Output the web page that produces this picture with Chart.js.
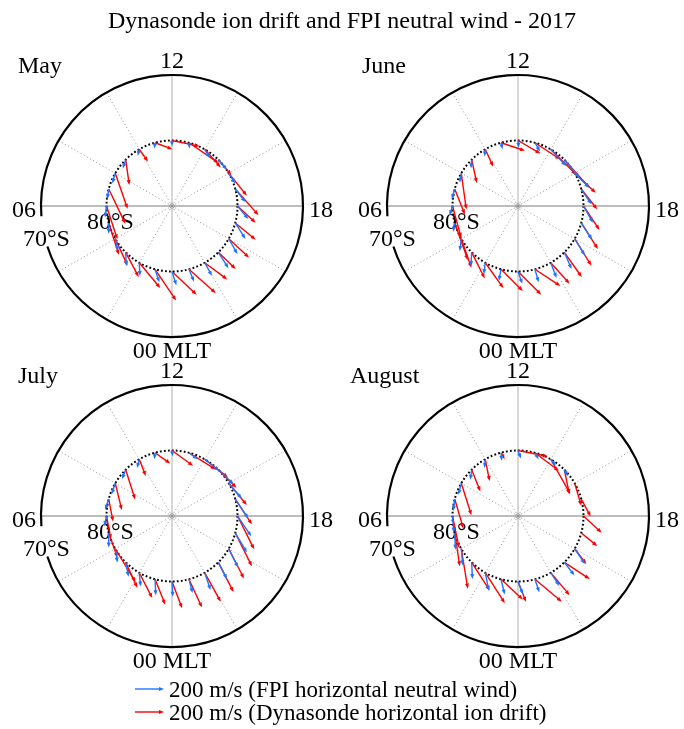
<!DOCTYPE html>
<html lang="en">
<head>
  <meta charset="UTF-8" />
  <title>Dynasonde ion drift and FPI neutral wind - 2017</title>
  <script src="https://cdn.jsdelivr.net/npm/chart.js"></script>
  <style>
    html, body { margin: 0; padding: 0; background: #fff; }
    #wrap { position: relative; width: 684px; height: 729px; }
  </style>
</head>
<body>
<div id="wrap"><canvas id="dials" width="684" height="729"></canvas></div>
<script>
  const chartTitle = 'Dynasonde ion drift and FPI neutral wind - 2017';
  const months = ['May', 'June', 'July', 'August'];
  const mlt = [0, 1, 2, 3, 4, 5, 6, 7, 8, 9, 10, 11, 12, 13, 14, 15, 16, 17, 18, 19, 20, 21, 22, 23];
  const hourLabels = ['00 MLT', '06', '12', '18'];
  const latLabels = ['80°S', '70°S'];
  const ringColat = 10;   // station ring (80°S)
  const edgeColat = 20;   // outer circle (70°S)
  const refSpeed = 200;   // m/s for legend arrow
  const legendLabels = ['200 m/s (FPI horizontal neutral wind)', '200 m/s (Dynasonde horizontal ion drift)'];

  // vectors in m/s: X = towards 18 MLT, Y = towards 12 MLT
  const mayWindX = [30, 30, 5, 5, 20, 0, -10, -10, -20, -20, -10, -5, 0, 5, 35, 60, 45, 70, 75, 70, 60, 70, 50, 35];
  const mayWindY = [-95, -90, -90, -95, -85, -75, -80, -70, -70, -60, -45, -40, -40, -40, -60, -70, -70, -90, -90, -110, -105, -110, -90, -85];
  const mayIonX = [170, 145, 145, 90, 85, 70, 75, 115, 85, 25, 60, 120, 190, 205, 110, 90, 125, 160, 125, 140, 140, 120, 155, 185];
  const mayIonY = [-160, -215, -175, -170, -185, -220, -230, -240, -245, -175, -85, -45, -40, -140, -125, -105, -155, -180, -115, -115, -130, -115, -115, -165];

  const juneWindX = [30, -15, -10, -5, -10, -10, -20, -20, -10, -5, -5, 10, 5, 35, 105, 105, 100, 70, 65, 75, 70, 50, 40, 25];
  const juneWindY = [-85, -80, -80, -95, -85, -60, -65, -70, -65, -60, -50, -45, -50, -60, -115, -125, -100, -105, -115, -115, -115, -115, -105, -90];
  const juneIonX = [160, 150, 125, 90, 70, 90, 60, 70, 35, 35, 55, 165, 155, 175, 175, 175, 145, 110, 110, 115, 115, 120, 130, 175];
  const juneIonY = [-160, -150, -175, -180, -200, -255, -220, -175, -250, -160, -120, -55, -90, -115, -175, -195, -135, -140, -165, -180, -185, -170, -145, -115];

  const julyWindX = [5, 5, 10, 20, 15, 0, -15, -25, -25, -25, -15, -5, 5, 60, 100, 105, 90, 90, 95, 80, 65, 60, 40, 25];
  const julyWindY = [-105, -110, -95, -100, -95, -100, -70, -75, -75, -65, -60, -45, -40, -45, -80, -100, -105, -135, -140, -135, -130, -115, -120, -95];
  const julyIonX = [70, 70, 90, 80, 140, 60, 30, 30, 45, 65, 45, 105, 145, 185, 160, 125, 125, 115, 115, 115, 105, 105, 110, 90];
  const julyIonY = [-185, -175, -175, -175, -230, -170, -160, -155, -185, -205, -115, -75, -105, -115, -125, -125, -150, -175, -230, -230, -205, -205, -200, -195];

  const augWindX = [35, 25, 25, 5, 10, 5, 10, -10, -20, -10, -5, 5, 20, 25, 35, 25, null, null, null, null, 70, 70, 60, 30];
  const augWindY = [-90, -105, -125, -115, -115, -115, -115, -80, -80, -70, -60, -55, -55, -45, -45, -45, null, null, null, null, -105, -90, -90, -90];
  const augIonX = [55, 150, 135, 125, 45, 35, 45, 60, 70, 60, 30, 25, 205, 165, 135, 35, 45, 65, 125, 110, 80, 175, 130, 185];
  const augIonY = [-140, -140, -210, -195, -275, -230, -220, -205, -220, -150, -150, -45, -40, -125, -240, -170, -155, -120, -115, -90, -105, -115, -155, -155];

  const windX = [mayWindX, juneWindX, julyWindX, augWindX];
  const windY = [mayWindY, juneWindY, julyWindY, augWindY];
  const ionX = [mayIonX, juneIonX, julyIonX, augIonX];
  const ionY = [mayIonY, juneIonY, julyIonY, augIonY];

  // layout
  const W = 684, H = 729;
  const centres = [[172, 206], [518, 206], [172, 516], [518, 516]];
  const pxPerDeg = 131 / edgeColat;
  const arrowDeg = 29 / pxPerDeg;          // legend arrow length in degrees for refSpeed
  const monthDx = [-154, -156, -154, -168];
  const gapFrom = 4.8, gapTo = 5.7;        // MLT span left open for the 70°S label
  const windColour = '#1f74ff';
  const ionColour = '#ff0000';
  const serif = '"Liberation Serif", "DejaVu Serif", serif';

  function ringPoint(h, colat) {
    const t = h * Math.PI / 12;
    return { x: -colat * Math.sin(t), y: -colat * Math.cos(t) };
  }

  function vectorData(vx, vy) {
    const out = [];
    mlt.forEach((h, i) => {
      if (vx[i] == null) return;
      const p = ringPoint(h, ringColat);
      out.push({ x: p.x, y: p.y, u: vx[i], v: vy[i] });
    });
    return out;
  }

  const scales = {};
  const datasets = [];
  months.forEach((m, i) => {
    const [cx, cy] = centres[i];
    scales['x' + i] = { type: 'linear', display: false, min: -cx / pxPerDeg, max: (W - cx) / pxPerDeg };
    scales['y' + i] = { type: 'linear', display: false, min: -(H - cy) / pxPerDeg, max: cy / pxPerDeg };
    datasets.push({ label: m + ' ion', panel: i, colour: ionColour, data: vectorData(ionX[i], ionY[i]),
      xAxisID: 'x' + i, yAxisID: 'y' + i, pointRadius: 0, showLine: false });
    datasets.push({ label: m + ' wind', panel: i, colour: windColour, data: vectorData(windX[i], windY[i]),
      xAxisID: 'x' + i, yAxisID: 'y' + i, pointRadius: 0, showLine: false });
  });

  function arrow(ctx, x0, y0, x1, y1, colour) {
    const a = Math.atan2(y1 - y0, x1 - x0);
    const len = 5, half = 2;
    ctx.strokeStyle = colour;
    ctx.fillStyle = colour;
    ctx.lineWidth = 1.4;
    ctx.beginPath();
    ctx.moveTo(x0, y0);
    ctx.lineTo(x1 - Math.cos(a) * len * 0.6, y1 - Math.sin(a) * len * 0.6);
    ctx.stroke();
    ctx.beginPath();
    ctx.moveTo(x1, y1);
    ctx.lineTo(x1 - Math.cos(a) * len + Math.sin(a) * half, y1 - Math.sin(a) * len - Math.cos(a) * half);
    ctx.lineTo(x1 - Math.cos(a) * len - Math.sin(a) * half, y1 - Math.sin(a) * len + Math.cos(a) * half);
    ctx.closePath();
    ctx.fill();
  }

  const dialPlugin = {
    id: 'dial',
    beforeDatasetsDraw(chart) {
      const ctx = chart.ctx;
      ctx.save();
      ctx.fillStyle = '#000';
      ctx.font = '24px ' + serif;
      ctx.textAlign = 'center';
      ctx.fillText(chartTitle, W / 2, 28);

      months.forEach((m, i) => {
        const xs = chart.scales['x' + i], ys = chart.scales['y' + i];
        const cx = xs.getPixelForValue(0), cy = ys.getPixelForValue(0);
        const rEdge = xs.getPixelForValue(edgeColat) - cx;
        const rRing = xs.getPixelForValue(ringColat) - cx;

        // dotted radial lines every 2 h
        ctx.strokeStyle = '#9a9a9a';
        ctx.lineWidth = 0.9;
        ctx.setLineDash([1.2, 2.4]);
        [2, 4, 8, 10, 14, 16, 20, 22].forEach(h => {
          const p = ringPoint(h, edgeColat);
          ctx.beginPath();
          ctx.moveTo(cx, cy);
          ctx.lineTo(xs.getPixelForValue(p.x), ys.getPixelForValue(p.y));
          ctx.stroke();
        });
        ctx.setLineDash([]);

        // solid cross
        ctx.lineWidth = 1;
        ctx.strokeStyle = '#b0b0b0';
        ctx.beginPath();
        ctx.moveTo(cx, cy - rEdge); ctx.lineTo(cx, cy + rEdge);
        ctx.stroke();
        ctx.strokeStyle = '#7a7a7a';
        ctx.beginPath();
        ctx.moveTo(cx - rEdge, cy); ctx.lineTo(cx + rEdge, cy);
        ctx.stroke();

        // centre marker
        ctx.strokeStyle = '#999';
        ctx.beginPath();
        ctx.arc(cx, cy, 2.3, 0, Math.PI * 2);
        ctx.stroke();

        // outer circle with a gap at the 70°S label
        const toAng = h => Math.PI / 2 + h * Math.PI / 12;
        ctx.strokeStyle = '#000';
        ctx.lineWidth = 2.2;
        ctx.beginPath();
        ctx.arc(cx, cy, rEdge, toAng(gapTo), toAng(gapFrom) + Math.PI * 2);
        ctx.stroke();

        // station ring
        ctx.lineWidth = 2;
        ctx.setLineDash([1.8, 2.2]);
        ctx.beginPath();
        ctx.arc(cx, cy, rRing, 0, Math.PI * 2);
        ctx.stroke();
        ctx.setLineDash([]);

        // labels
        ctx.fillStyle = '#000';
        ctx.font = '24px ' + serif;
        ctx.textAlign = 'center';
        ctx.fillText(hourLabels[2], cx, cy - 138);
        ctx.fillText(hourLabels[0], cx, cy + 152);
        ctx.textAlign = 'right';
        ctx.fillText(hourLabels[1], cx - 136, cy + 11);
        ctx.textAlign = 'left';
        ctx.fillText(hourLabels[3], cx + 137, cy + 11);
        ctx.fillText(latLabels[0], cx - 85, cy + 23);
        ctx.fillText(latLabels[1], cx - 149, cy + 40);
        ctx.fillText(m, cx + monthDx[i], cy - 133);
      });

      // legend
      const x0 = chart.scales.x2;
      const len = x0.getPixelForValue(arrowDeg) - x0.getPixelForValue(0);
      [[windColour, 689, 697], [ionColour, 712, 720]].forEach(([c, ya, yt], k) => {
        arrow(ctx, 135, ya, 135 + len, ya, c);
        ctx.fillStyle = '#000';
        ctx.font = '23px ' + serif;
        ctx.textAlign = 'left';
        ctx.fillText(legendLabels[k], 169, yt);
      });
      ctx.restore();
    },
    afterDatasetsDraw(chart) {
      const ctx = chart.ctx;
      ctx.save();
      chart.data.datasets.forEach(ds => {
        const xs = chart.scales[ds.xAxisID], ys = chart.scales[ds.yAxisID];
        const k = arrowDeg / refSpeed;
        ds.data.forEach(p => {
          arrow(ctx,
            xs.getPixelForValue(p.x), ys.getPixelForValue(p.y),
            xs.getPixelForValue(p.x + p.u * k), ys.getPixelForValue(p.y + p.v * k),
            ds.colour);
        });
      });
      ctx.restore();
    }
  };

  new Chart(document.getElementById('dials'), {
    type: 'scatter',
    data: { datasets },
    options: {
      responsive: false,
      animation: false,
      layout: { padding: 0 },
      scales,
      plugins: { legend: { display: false }, tooltip: { enabled: false } }
    },
    plugins: [dialPlugin]
  });
</script>
</body>
</html>
